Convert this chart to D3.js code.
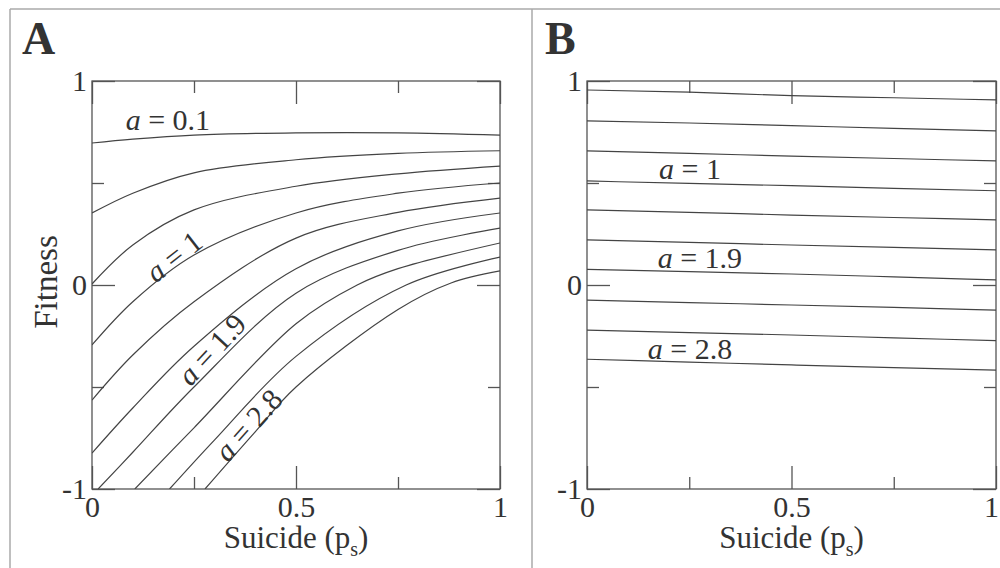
<!DOCTYPE html>
<html>
<head>
<meta charset="utf-8">
<script src="https://cdn.jsdelivr.net/npm/d3@7"></script>
<style>
  body { margin: 0; background: #fff; }
  svg { display: block; }
  text { font-family: "Liberation Serif", "DejaVu Serif", serif; fill: #333; }
</style>
</head>
<body>
<svg id="chart" width="1000" height="568"></svg>
<script>
// values
const aValues = [0.1, 0.4, 0.7, 1.0, 1.3, 1.6, 1.9, 2.2, 2.5, 2.8];

// panel A: [suicide p_s, fitness] for each a (curves entering from the bottom start at -1)
const fitnessA = [
  [[0, 0.696], [0.1, 0.715], [0.25, 0.735], [0.5, 0.746], [0.75, 0.746], [1, 0.735]],
  [[0, 0.353], [0.1, 0.45], [0.25, 0.55], [0.5, 0.614], [0.75, 0.645], [1, 0.658]],
  [[0, 0.005], [0.1, 0.196], [0.25, 0.368], [0.5, 0.484], [0.75, 0.545], [1, 0.583]],
  [[0, -0.294], [0.1, -0.082], [0.25, 0.147], [0.5, 0.353], [0.75, 0.45], [1, 0.5]],
  [[0, -0.564], [0.1, -0.343], [0.25, -0.082], [0.5, 0.23], [0.75, 0.356], [1, 0.426]],
  [[0, -0.824], [0.1, -0.603], [0.25, -0.30], [0.5, 0.08], [0.75, 0.265], [1, 0.353]],
  [[0.015, -1], [0.1, -0.82], [0.25, -0.5], [0.5, -0.04], [0.75, 0.17], [1, 0.279]],
  [[0.105, -1], [0.25, -0.70], [0.5, -0.19], [0.65, 0], [0.75, 0.08], [1, 0.206]],
  [[0.19, -1], [0.3, -0.76], [0.5, -0.35], [0.77, 0], [1, 0.137]],
  [[0.277, -1], [0.4, -0.72], [0.5, -0.5], [0.75, -0.12], [0.88, 0.01], [1, 0.069]]
];

// panel B: fitness at these p_s values
const suicideB = [0, 0.25, 0.5, 0.75, 1];
const fitnessB = [
  [0.956, 0.945, 0.928, 0.918, 0.907],
  [0.805, 0.794, 0.781, 0.768, 0.756],
  [0.657, 0.645, 0.632, 0.620, 0.608],
  [0.510, 0.498, 0.487, 0.474, 0.462],
  [0.368, 0.356, 0.343, 0.331, 0.319],
  [0.221, 0.209, 0.196, 0.184, 0.172],
  [0.077, 0.066, 0.054, 0.040, 0.025],
  [-0.074, -0.086, -0.098, -0.110, -0.123],
  [-0.221, -0.233, -0.245, -0.259, -0.273],
  [-0.364, -0.378, -0.392, -0.405, -0.417]
];

const xMajor = [0, 0.5, 1];
const xMinor = [0.25, 0.75];
const yMajor = [-1, 0, 1];
const yMinor = [-0.5, 0.5];

const labelsA = [
  { a: 0.1, text: '0.1' },
  { a: 1.0, text: '1' },
  { a: 1.9, text: '1.9' },
  { a: 2.8, text: '2.8' }
];
const labelsB = [
  { a: 1.0, text: '1' },
  { a: 1.9, text: '1.9' },
  { a: 2.8, text: '2.8' }
];

const svg = d3.select('#chart');
const lineColor = '#444';

svg.append('rect').attr('width', 1000).attr('height', 568).attr('fill', '#fff');

// outer panel frame
const frame = svg.append('g').attr('stroke', '#aaa').attr('stroke-width', 1.5).attr('fill', 'none');
frame.append('line').attr('x1', 10).attr('x2', 1000).attr('y1', 9).attr('y2', 9);
frame.append('line').attr('x1', 10).attr('x2', 10).attr('y1', 9).attr('y2', 568);
frame.append('line').attr('x1', 532).attr('x2', 532).attr('y1', 9).attr('y2', 568);

function drawPanel(opts) {
  const { left, top, width, height, letter, id } = opts;
  const x = d3.scaleLinear().domain([0, 1]).range([0, width]);
  const y = d3.scaleLinear().domain([-1, 1]).range([height, 0]);
  const g = svg.append('g').attr('transform', `translate(${left},${top})`);

  g.append('clipPath').attr('id', 'clip' + id)
    .append('rect').attr('width', width).attr('height', height);

  const fmt = d => String(d);

  // bottom axis with labels
  const bottom = g.append('g').attr('transform', `translate(0,${height})`)
    .call(d3.axisBottom(x).tickValues(xMajor).tickSize(-23).tickPadding(7).tickFormat(fmt));
  g.append('g').attr('transform', `translate(0,${height})`)
    .call(d3.axisBottom(x).tickValues(xMinor).tickSize(-12).tickFormat(''));
  // top
  g.append('g').call(d3.axisTop(x).tickValues(xMajor).tickSize(-23).tickFormat(''));
  g.append('g').call(d3.axisTop(x).tickValues(xMinor).tickSize(-12).tickFormat(''));
  // left with labels
  g.append('g').call(d3.axisLeft(y).tickValues(yMajor).tickSize(-23).tickPadding(5).tickFormat(fmt));
  g.append('g').call(d3.axisLeft(y).tickValues(yMinor).tickSize(-12).tickFormat(''));
  // right
  g.append('g').attr('transform', `translate(${width},0)`)
    .call(d3.axisRight(y).tickValues(yMajor).tickSize(-23).tickFormat(''));
  g.append('g').attr('transform', `translate(${width},0)`)
    .call(d3.axisRight(y).tickValues(yMinor).tickSize(-12).tickFormat(''));

  g.selectAll('.domain').remove();
  g.selectAll('.tick line').attr('stroke', '#555').attr('stroke-width', 1.3);
  g.selectAll('.tick text')
    .attr('font-family', '"Liberation Serif", serif')
    .attr('font-size', 30)
    .attr('fill', '#333');
  if (opts.shiftLast) {
    bottom.selectAll('.tick text').filter(d => d === 1).attr('dx', opts.shiftLast);
  }

  g.append('rect').attr('width', width).attr('height', height)
    .attr('fill', 'none').attr('stroke', '#555').attr('stroke-width', 1.3);

  // axis title
  const xt = g.append('text')
    .attr('x', width / 2).attr('y', height + 59)
    .attr('text-anchor', 'middle').attr('font-size', 31);
  xt.append('tspan').text('Suicide (p');
  xt.append('tspan').attr('font-size', 20).attr('dy', 8).text('s');
  xt.append('tspan').attr('dy', -8).text(')');

  svg.append('text').attr('x', opts.letterX).attr('y', 54)
    .attr('font-size', 46).attr('font-weight', 'bold').attr('fill', '#222')
    .text(letter);

  return { g, x, y };
}

// ---- panel A
const A = drawPanel({ left: 92, top: 81, width: 408, height: 408, letter: 'A', letterX: 22, id: 'A' });
const lineA = d3.line().x(d => A.x(d[0])).y(d => A.y(d[1])).curve(d3.curveCatmullRom.alpha(0.5));
A.g.append('g').attr('clip-path', 'url(#clipA)')
  .selectAll('path').data(fitnessA).join('path')
  .attr('d', lineA).attr('fill', 'none').attr('stroke', lineColor).attr('stroke-width', 1.2);

svg.append('text')
  .attr('transform', 'translate(57,282) rotate(-90)')
  .attr('text-anchor', 'middle').attr('font-size', 33)
  .text('Fitness');

// label placement for panel A: [p_s, fitness, rotation]
const placeA = { 0.1: [0.186, 0.76, 0], 1: [0.216, 0.1, -38], 1.9: [0.312, -0.35, -47], 2.8: [0.402, -0.72, -48] };
labelsA.forEach(l => {
  const [px, py, rot] = placeA[l.a];
  const t = A.g.append('text')
    .attr('transform', `translate(${A.x(px)},${A.y(py)}) rotate(${rot})`)
    .attr('text-anchor', 'middle').attr('font-size', 30);
  t.append('tspan').attr('font-style', 'italic').text('a');
  t.append('tspan').text(' = ' + l.text);
});

// ---- panel B
const B = drawPanel({ left: 587, top: 81, width: 409, height: 408, letter: 'B', letterX: 545, id: 'B', shiftLast: -5 });
const lineB = d3.line().x((d, i) => B.x(suicideB[i])).y(d => B.y(d)).curve(d3.curveMonotoneX);
B.g.append('g').attr('clip-path', 'url(#clipB)')
  .selectAll('path').data(fitnessB).join('path')
  .attr('d', lineB).attr('fill', 'none').attr('stroke', lineColor).attr('stroke-width', 1.2);

const placeB = { 1: [0.252, 0.52], 1.9: [0.276, 0.085], 2.8: [0.252, -0.362] };
labelsB.forEach(l => {
  const [px, py] = placeB[l.a];
  const t = B.g.append('text')
    .attr('x', B.x(px)).attr('y', B.y(py))
    .attr('text-anchor', 'middle').attr('font-size', 30);
  t.append('tspan').attr('font-style', 'italic').text('a');
  t.append('tspan').text(' = ' + l.text);
});
</script>
</body>
</html>
